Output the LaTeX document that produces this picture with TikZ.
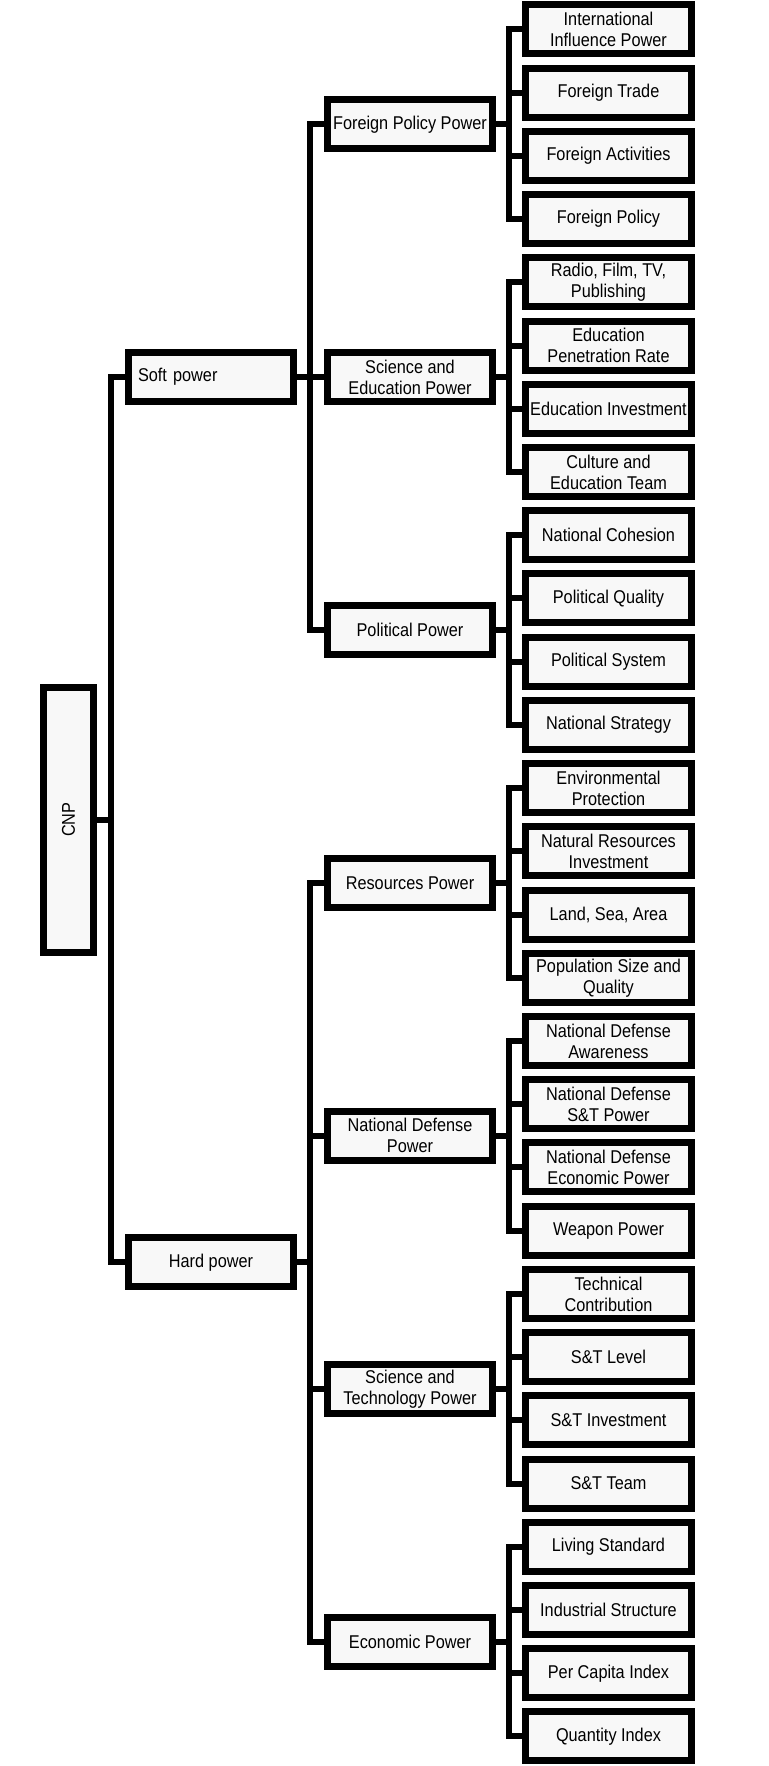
\documentclass[tikz,border=0pt]{standalone}
\usepackage{fontspec}
\setmainfont{Liberation Sans}[FakeStretch=0.88]
\definecolor{boxfill}{HTML}{F8F8F8}
\begin{document}
\begin{tikzpicture}[x=1pt,y=-1pt,
  box/.style={draw=black, line width=7pt, fill=boxfill, inner sep=1pt, align=center,
    font=\fontsize{18.5}{21}\selectfont},
  leaf/.style={box, minimum width=166pt, minimum height=49pt},
  mid/.style={box, minimum width=165pt, minimum height=49pt},
  conn/.style={draw=black, line width=6pt}]
\useasboundingbox (0,0) rectangle (768,1766);

% leaves
\node[leaf] (l0)  at (608.5,29.5)    {International\\Influence Power};
\node[leaf] (l1)  at (608.5,92.72)   {Foreign Trade};
\node[leaf] (l2)  at (608.5,155.94)  {Foreign Activities};
\node[leaf] (l3)  at (608.5,219.16)  {Foreign Policy};
\node[leaf] (l4)  at (608.5,282.38)  {Radio, Film, TV,\\Publishing};
\node[leaf] (l5)  at (608.5,345.6)   {Education\\Penetration Rate};
\node[leaf] (l6)  at (608.5,408.82)  {Education Investment};
\node[leaf] (l7)  at (608.5,472.04)  {Culture and\\Education Team};
\node[leaf] (l8)  at (608.5,535.26)  {National Cohesion};
\node[leaf] (l9)  at (608.5,598.48)  {Political Quality};
\node[leaf] (l10) at (608.5,661.7)   {Political System};
\node[leaf] (l11) at (608.5,724.92)  {National Strategy};
\node[leaf] (l12) at (608.5,788.14)  {Environmental\\Protection};
\node[leaf] (l13) at (608.5,851.36)  {Natural Resources\\Investment};
\node[leaf] (l14) at (608.5,914.58)  {Land, Sea, Area};
\node[leaf] (l15) at (608.5,977.8)   {Population Size and\\Quality};
\node[leaf] (l16) at (608.5,1041.02) {National Defense\\Awareness};
\node[leaf] (l17) at (608.5,1104.24) {National Defense\\S\&T Power};
\node[leaf] (l18) at (608.5,1167.46) {National Defense\\Economic Power};
\node[leaf] (l19) at (608.5,1230.68) {Weapon Power};
\node[leaf] (l20) at (608.5,1293.9)  {Technical\\Contribution};
\node[leaf] (l21) at (608.5,1357.12) {S\&T Level};
\node[leaf] (l22) at (608.5,1420.34) {S\&T Investment};
\node[leaf] (l23) at (608.5,1483.56) {S\&T Team};
\node[leaf] (l24) at (608.5,1546.78) {Living Standard};
\node[leaf] (l25) at (608.5,1610.0)  {Industrial Structure};
\node[leaf] (l26) at (608.5,1673.22) {Per Capita Index};
\node[leaf] (l27) at (608.5,1736.44) {Quantity Index};

% second level
\node[mid] (fpp) at (410,124.33)  {Foreign Policy Power};
\node[mid] (sep) at (410,377.21)  {Science and\\Education Power};
\node[mid] (pp)  at (410,630.09)  {Political Power};
\node[mid] (rp)  at (410,882.97)  {Resources Power};
\node[mid] (ndp) at (410,1135.85) {National Defense\\Power};
\node[mid] (stp) at (410,1388.73) {Science and\\Technology Power};
\node[mid] (ep)  at (410,1641.61) {Economic Power};

% first level
\node[mid, text width=146pt, align=left, inner xsep=9.5pt] (soft) at (211,377.21) {Soft power};
\node[mid] (hard) at (211,1262.29) {Hard power};

% root
\node[box, minimum width=50pt, minimum height=265pt] (cnp) at (68.5,819.75) {\rotatebox{90}{CNP}};

% connectors
\foreach \p/\a/\b in {fpp/0/3, sep/4/7, pp/8/11, rp/12/15, ndp/16/19, stp/20/23, ep/24/27}
  \foreach \c in {\a,...,\b}
    \draw[conn] (\p.east) -- ([xshift=13pt]\p.east) |- (l\c.west);
\foreach \c in {fpp,sep,pp}
  \draw[conn] (soft.east) -- ([xshift=13pt]soft.east) |- (\c.west);
\foreach \c in {rp,ndp,stp,ep}
  \draw[conn] (hard.east) -- ([xshift=13pt]hard.east) |- (\c.west);
\foreach \c in {soft,hard}
  \draw[conn] (cnp.east) -- ([xshift=14pt]cnp.east) |- (\c.west);
\end{tikzpicture}
\end{document}
